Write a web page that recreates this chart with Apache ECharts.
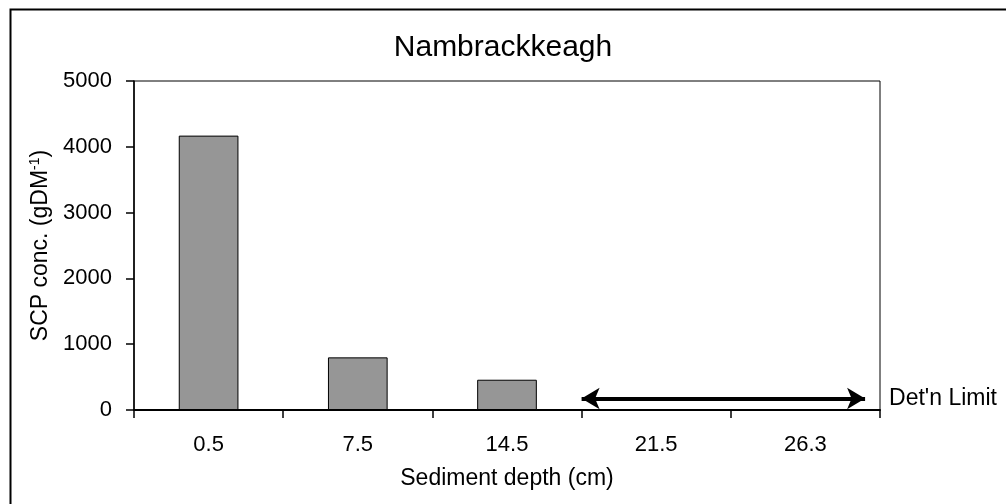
<!DOCTYPE html>
<html>
<head>
<meta charset="utf-8">
<script src="https://cdn.jsdelivr.net/npm/echarts@6/dist/echarts.min.js"></script>
<style>html,body{margin:0;padding:0;background:#fff}#c{width:1006px;height:504px}</style>
</head>
<body>
<div id="c"></div>
<script>
var titleText = 'Nambrackkeagh';
var xAxisTitle = 'Sediment depth (cm)';
var depths = ['0.5', '7.5', '14.5', '21.5', '26.3'];
var scpValues = [4170, 800, 460, null, null];
var yTicks = [0, 1000, 2000, 3000, 4000, 5000];
var arrowX = [3.0, 4.9];
var arrowY = 175;
var arrowLabel = "Det'n Limit";

var FONT = '"Liberation Sans", Arial, sans-serif';
var chart = echarts.init(document.getElementById('c'));
chart.setOption({
  animation: false,
  backgroundColor: '#fff',
  title: {
    text: titleText, left: 'center', top: 28,
    textStyle: { fontFamily: FONT, fontSize: 30, fontWeight: 'normal', color: '#000' }
  },
  graphic: [{
    type: 'rect', left: 8, top: 7,
    shape: { width: 1020, height: 520 },
    style: { fill: 'none', stroke: '#000', lineWidth: 2 }, silent: true
  }],
  grid: { left: 134, right: 126, top: 81, bottom: 94, show: true, borderColor: '#000', borderWidth: 1 },
  xAxis: [{
    type: 'category', data: depths,
    name: xAxisTitle, nameLocation: 'middle', nameGap: 57,
    nameTextStyle: { fontFamily: FONT, fontSize: 23, color: '#000' },
    axisLine: { lineStyle: { color: '#000', width: 2 } },
    axisTick: { show: true, length: 8, lineStyle: { color: '#000', width: 1.5 } },
    axisLabel: { fontFamily: FONT, fontSize: 22, color: '#000', margin: 24 }
  }, {
    type: 'value', min: 0, max: depths.length, show: false
  }],
  yAxis: {
    type: 'value', min: yTicks[0], max: yTicks[yTicks.length - 1], interval: 1000,
    name: '{n|SCP conc. (gDM}{s|-1}{n|)}', nameLocation: 'middle', nameGap: 78, nameRotate: 90,
    nameTextStyle: {
      fontFamily: FONT, fontSize: 23, color: '#000',
      rich: {
        n: { fontFamily: FONT, fontSize: 23, color: '#000' },
        s: { fontFamily: FONT, fontSize: 14, color: '#000', padding: [0, 0, 11, 0] }
      }
    },
    axisLine: { show: true, lineStyle: { color: '#000', width: 1.5 } },
    axisTick: { show: true, length: 8, lineStyle: { color: '#000', width: 1.5 } },
    axisLabel: { fontFamily: FONT, fontSize: 22, color: '#000', margin: 22,
                 formatter: function (v) { return String(v); } },
    splitLine: { show: false }
  },
  series: [{
    type: 'bar', data: scpValues, barWidth: '40%',
    itemStyle: { color: '#969696', borderColor: '#000', borderWidth: 1 }
  }, {
    type: 'line', xAxisIndex: 1, data: [], symbol: 'none',
    markLine: {
      silent: true, animation: false,
      symbol: ['arrow', 'arrow'], symbolSize: [16, 18],
      lineStyle: { color: '#000', width: 4, type: 'solid' },
      label: { show: true, position: 'end', distance: 24, formatter: arrowLabel,
               fontFamily: FONT, fontSize: 23, color: '#000' },
      data: [[{ coord: [arrowX[0], arrowY] }, { coord: [arrowX[1], arrowY] }]]
    }
  }]
});
</script>
</body>
</html>
